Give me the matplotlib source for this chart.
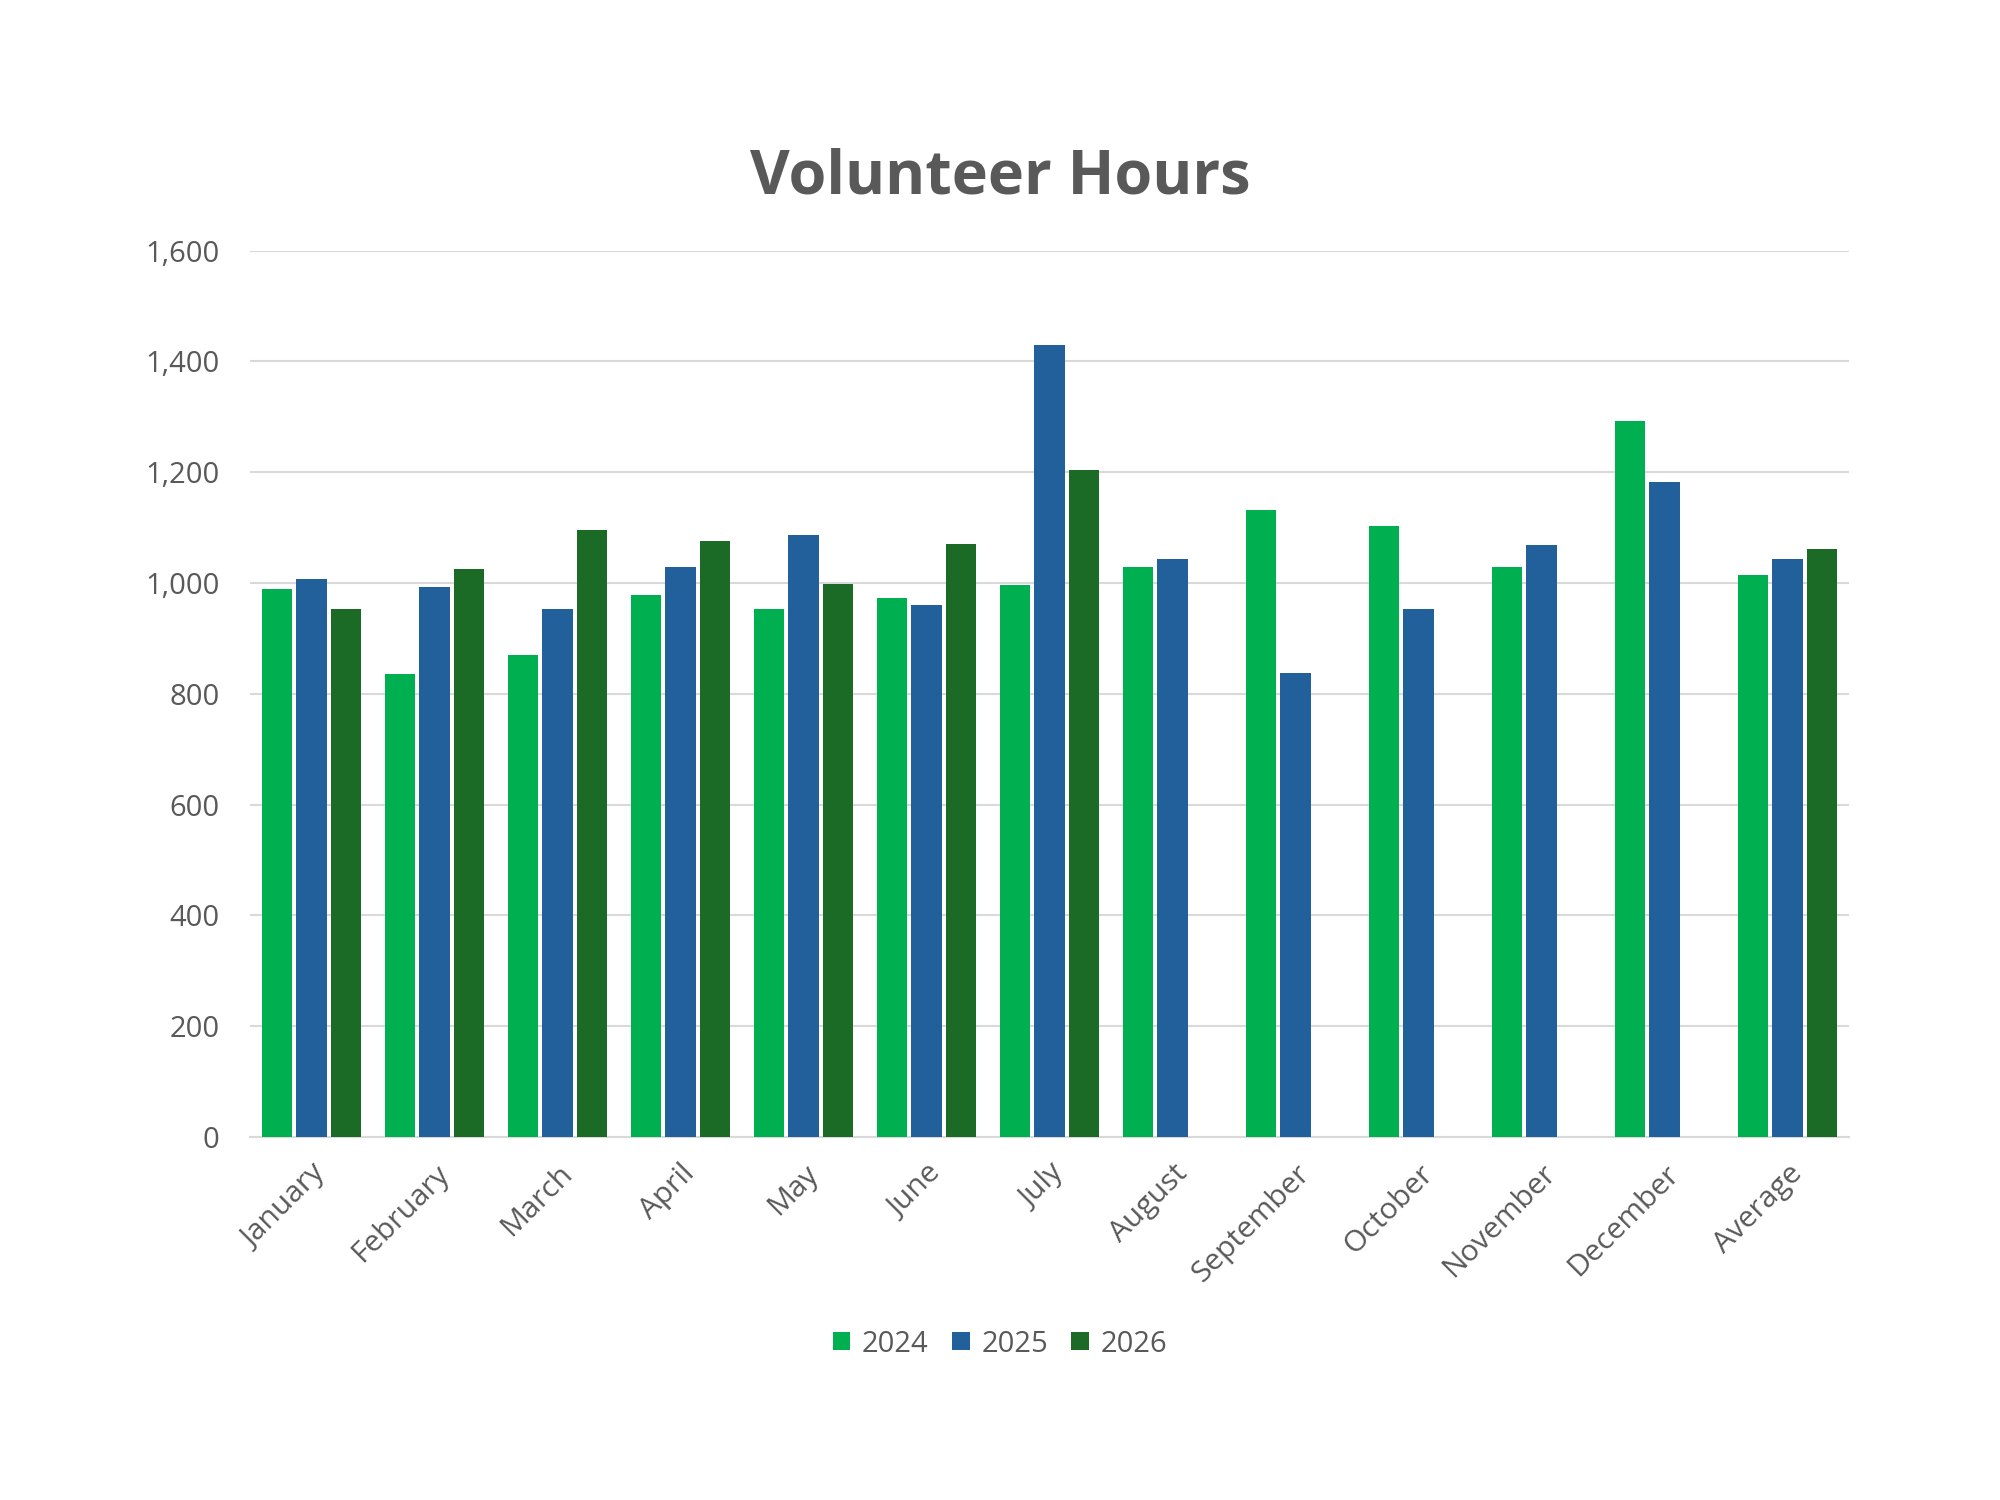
import numpy as np
import matplotlib.pyplot as plt

plt.rcParams['font.family'] = ['Open Sans', 'DejaVu Sans']

categories = ['January', 'February', 'March', 'April', 'May', 'June', 'July',
              'August', 'September', 'October', 'November', 'December', 'Average']
hours_2024 = [989, 835, 870, 978, 953, 972, 996, 1028, 1131, 1102, 1028, 1293, 1014]
hours_2025 = [1007, 992, 953, 1028, 1086, 960, 1430, 1044, 837, 953, 1068, 1183, 1044]
hours_2026 = [953, 1026, 1095, 1075, 998, 1071, 1204, np.nan, np.nan, np.nan, np.nan, np.nan, 1061]
years = ['2024', '2025', '2026']

colors = ['#00B050', '#22609B', '#1B6B26']
text_col = '#595959'

fig = plt.figure(figsize=(20, 15), dpi=100)
ax = fig.add_axes([0.125, 0.242, 0.7995, 0.591])

x = np.arange(len(categories))
pitch = 0.28
width = 0.245
for i, (vals, lab) in enumerate(zip([hours_2024, hours_2025, hours_2026], years)):
    ax.bar(x + (i - 1) * pitch, vals, width, color=colors[i], label=lab, zorder=3)

ax.set_xlim(-0.5, len(categories) - 0.5)
ax.set_ylim(0, 1600)
ax.set_yticks(range(0, 1601, 200))
ax.set_yticklabels([f'{v:,}' for v in range(0, 1601, 200)])
ax.grid(axis='y', color='#D9D9D9', linewidth=1.5, zorder=0)
for s in ['top', 'right', 'left']:
    ax.spines[s].set_visible(False)
ax.spines['bottom'].set_color('#D9D9D9')
ax.spines['bottom'].set_linewidth(1.5)
ax.tick_params(axis='both', length=0, labelsize=21, labelcolor=text_col)
ax.tick_params(axis='y', pad=22)
ax.set_xticks(x)
ax.set_xticklabels(categories, rotation=45, ha='right', rotation_mode='anchor')
ax.tick_params(axis='x', pad=16, labelsize=21.5)

fig.text(0.5, 0.881, 'Volunteer Hours', ha='center', va='center',
         fontsize=44, fontweight='bold', color=text_col)

fig.legend(loc='center', bbox_to_anchor=(0.5, 0.104), ncol=3, frameon=False,
           fontsize=21, labelcolor=text_col, handlelength=0.6, handleheight=0.6,
           handletextpad=0.4, columnspacing=0.8)

fig.savefig('out.png', dpi=100, facecolor='white')
